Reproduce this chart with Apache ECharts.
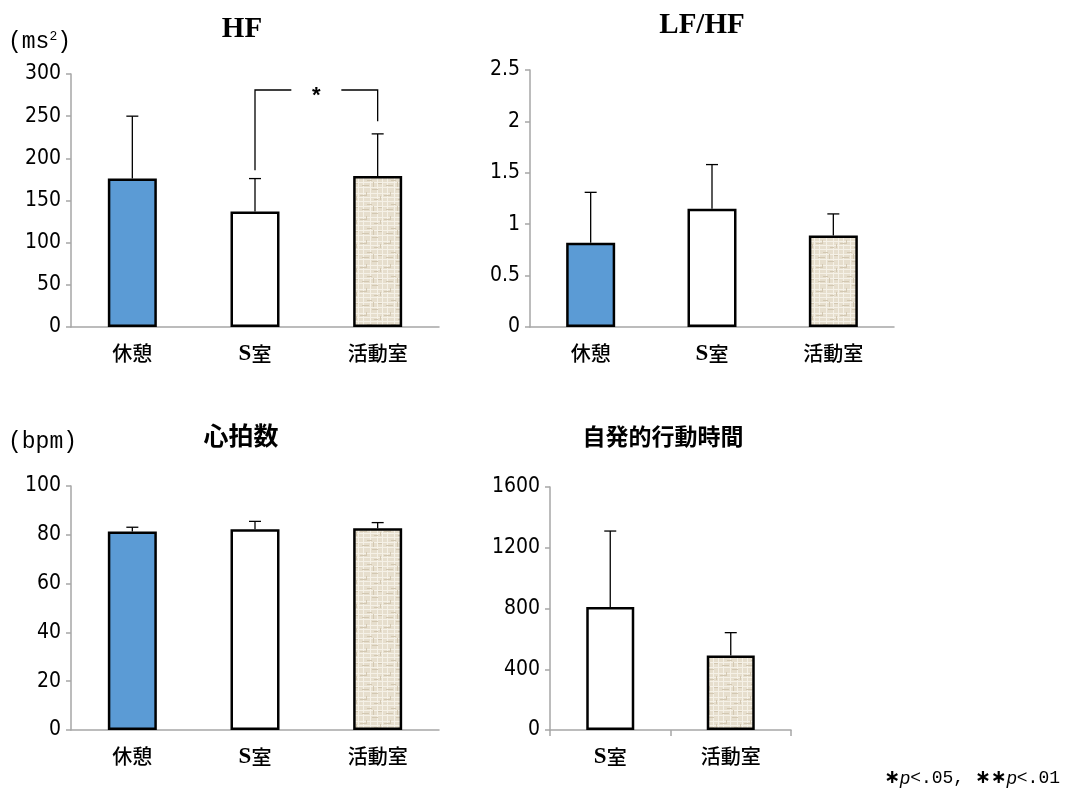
<!DOCTYPE html>
<html>
<head>
<meta charset="utf-8">
<script src="https://cdn.jsdelivr.net/npm/echarts@6/dist/echarts.min.js"></script>
<style>
html,body{margin:0;padding:0;background:#fff;}
#main{width:1067px;height:795px;}
</style>
</head>
<body>
<div id="main"></div>
<script>
// ---- data ----
const categories = ['休憩', 'S室', '活動室'];
const hfMean = [176, 137, 179];
const hfErr = [74, 39, 50];
const lfhfMean = [0.82, 1.15, 0.89];
const lfhfErr = [0.49, 0.43, 0.21];
const hrMean = [81.4, 82.3, 82.7];
const hrErr = [1.7, 3.2, 2.3];
const spontCategories = ['S室', '活動室'];
const spontMean = [810, 490];
const spontErr = [500, 151];
const hfTicks = { min: 0, max: 300, interval: 50 };
const lfhfTicks = { min: 0, max: 2.5, interval: 0.5 };
const hrTicks = { min: 0, max: 100, interval: 20 };
const spontTicks = { min: 0, max: 1600, interval: 400 };
// significance bracket in HF chart: between category 1 and 2
const sigFrom = 1, sigTo = 2, sigTop = 281, sigFromBottom = 186, sigToBottom = 244, sigLabel = '*';

// ---- styles ----
function linenPattern() {
  const c = document.createElement('canvas');
  c.width = 24; c.height = 24;
  const g = c.getContext('2d');
  g.fillStyle = '#e6decd'; g.fillRect(0, 0, 24, 24);
  g.fillStyle = '#f5f1e7';
  [1, 5, 9, 14, 19].forEach(y => g.fillRect(0, y, 24, 1));
  [3, 10, 17, 22].forEach(x => g.fillRect(x, 0, 1, 24));
  g.fillStyle = '#d3c8b2';
  [[0,3,6],[7,12,5],[14,7,4],[2,17,7],[12,21,6],[18,15,4]].forEach(([x,y,w]) => g.fillRect(x, y, w, 1));
  [[6,0,4],[13,14,5],[20,4,4]].forEach(([x,y,h]) => g.fillRect(x, y, 1, h));
  return c;
}
const pattern = { image: linenPattern(), repeat: 'repeat' };
const colorMap = { '休憩': '#5b9bd5', 'S室': '#ffffff', '活動室': pattern };
const axisGray = '#a6a6a6';
const numFont = '"Liberation Sans Narrow", "DejaVu Sans Condensed", "Liberation Sans"';
const cjkFont = 'Noto Sans CJK JP';

const grids = [
  { left: 71, top: 74, width: 368, height: 253 },
  { left: 530, top: 70, width: 364, height: 257 },
  { left: 71, top: 486, width: 368, height: 244 },
  { left: 550, top: 487, width: 241, height: 243 }
];

function xAx(gi, cats, ticks) {
  return {
    type: 'category', gridIndex: gi, data: cats,
    axisLine: { lineStyle: { color: axisGray, width: 1.5 } },
    axisTick: { show: ticks, length: 6, lineStyle: { color: axisGray, width: 1.5 } },
    axisLabel: {
      color: '#000', fontFamily: cjkFont, fontSize: 20, fontWeight: 500, margin: 16,
      formatter: v => v.charAt(0) === 'S' ? '{s|S}' + v.slice(1) : v,
      rich: { s: { fontFamily: 'Liberation Serif', fontWeight: 'bold', fontSize: 23, color: '#000' } }
    }
  };
}
function yAx(gi, t) {
  return {
    type: 'value', gridIndex: gi, min: t.min, max: t.max, interval: t.interval,
    axisLine: { show: true, lineStyle: { color: axisGray, width: 1.5 } },
    axisTick: { show: true, length: 5, lineStyle: { color: axisGray, width: 1.5 } },
    splitLine: { show: false },
    axisLabel: { color: '#000', fontFamily: numFont, fontSize: 21, margin: 10, formatter: v => String(v) }
  };
}
function barSeries(gi, cats, means, bw) {
  return {
    type: 'bar', xAxisIndex: gi, yAxisIndex: gi, barWidth: bw,
    data: means.map((v, i) => ({ value: v, itemStyle: { color: colorMap[cats[i]] } })),
    itemStyle: { borderColor: '#000', borderWidth: 2.5 },
    silent: true, z: 2
  };
}
function errSeries(gi, means, errs) {
  return {
    type: 'custom', xAxisIndex: gi, yAxisIndex: gi, z: 1,
    data: means.map((m, i) => [i, m, m + errs[i]]),
    renderItem: function (params, api) {
      const b = api.coord([api.value(0), api.value(1)]);
      const t = api.coord([api.value(0), api.value(2)]);
      const st = { stroke: '#000', lineWidth: 1.3 };
      return { type: 'group', children: [
        { type: 'line', shape: { x1: b[0], y1: b[1], x2: t[0], y2: t[1] }, style: st },
        { type: 'line', shape: { x1: t[0] - 6, y1: t[1], x2: t[0] + 6, y2: t[1] }, style: st }
      ]};
    }
  };
}
const bracketSeries = {
  type: 'custom', xAxisIndex: 0, yAxisIndex: 0, z: 3,
  data: [[sigFrom, sigTo, sigTop, sigFromBottom, sigToBottom]],
  renderItem: function (params, api) {
    const a = api.coord([api.value(0), api.value(2)]);
    const b = api.coord([api.value(1), api.value(2)]);
    const aBot = api.coord([api.value(0), api.value(3)]);
    const bBot = api.coord([api.value(1), api.value(4)]);
    const mid = (a[0] + b[0]) / 2, gap = 25;
    const st = { stroke: '#000', lineWidth: 1.3, fill: null };
    return { type: 'group', children: [
      { type: 'polyline', shape: { points: [[a[0], aBot[1]], [a[0], a[1]], [mid - gap, a[1]]] }, style: st },
      { type: 'polyline', shape: { points: [[mid + gap, b[1]], [b[0], b[1]], [b[0], bBot[1]]] }, style: st },
      { type: 'text', style: { text: sigLabel, x: mid, y: a[1] + 6, align: 'center', verticalAlign: 'middle', font: 'bold 22px "Liberation Sans"', fill: '#000' } }
    ]};
  }
};

const chart = echarts.init(document.getElementById('main'), null, { renderer: 'canvas' });
chart.setOption({
  animation: false,
  backgroundColor: '#fff',
  title: [
    { text: 'HF', left: 237, top: 10, textAlign: 'center', textStyle: { fontFamily: 'Liberation Serif', fontWeight: 'bold', fontSize: 29, color: '#000' } },
    { text: 'LF/HF', left: 697, top: 6, textAlign: 'center', textStyle: { fontFamily: 'Liberation Serif', fontWeight: 'bold', fontSize: 29, color: '#000' } },
    { text: '心拍数', left: 236, top: 418, textAlign: 'center', textStyle: { fontFamily: cjkFont, fontWeight: 'bold', fontSize: 25, color: '#000' } },
    { text: '自発的行動時間', left: 658, top: 420, textAlign: 'center', textStyle: { fontFamily: cjkFont, fontWeight: 'bold', fontSize: 23, color: '#000' } }
  ],
  graphic: [
    { type: 'text', left: 8, top: 30, style: { text: '(ms{s|2})', font: '23px "Liberation Mono"', fill: '#000',
        rich: { s: { fontSize: 13, fontFamily: 'Liberation Mono', verticalAlign: 'top', padding: [0, 0, 9, 0] } } } },
    { type: 'text', left: 8, top: 430, style: { text: '(bpm)', font: '23px "Liberation Mono"', fill: '#000' } },
    { type: 'text', right: 7, top: 769, style: { text: '{a|∗}{p|p}<.05, {a|∗∗}{p|p}<.01', font: '18px "Liberation Mono"', fill: '#000',
        rich: { a: { fontWeight: 'bold', fontSize: 19, fontFamily: 'DejaVu Sans' }, p: { fontStyle: 'italic', fontSize: 18, fontFamily: 'Liberation Sans' } } } }
  ],
  grid: grids,
  xAxis: [xAx(0, categories, false), xAx(1, categories, false), xAx(2, categories, false), xAx(3, spontCategories, true)],
  yAxis: [yAx(0, hfTicks), yAx(1, lfhfTicks), yAx(2, hrTicks), yAx(3, spontTicks)],
  series: [
    barSeries(0, categories, hfMean, 49), errSeries(0, hfMean, hfErr),
    barSeries(1, categories, lfhfMean, 49), errSeries(1, lfhfMean, lfhfErr),
    barSeries(2, categories, hrMean, 49), errSeries(2, hrMean, hrErr),
    barSeries(3, spontCategories, spontMean, 48), errSeries(3, spontMean, spontErr),
    bracketSeries
  ]
});
</script>
</body>
</html>
